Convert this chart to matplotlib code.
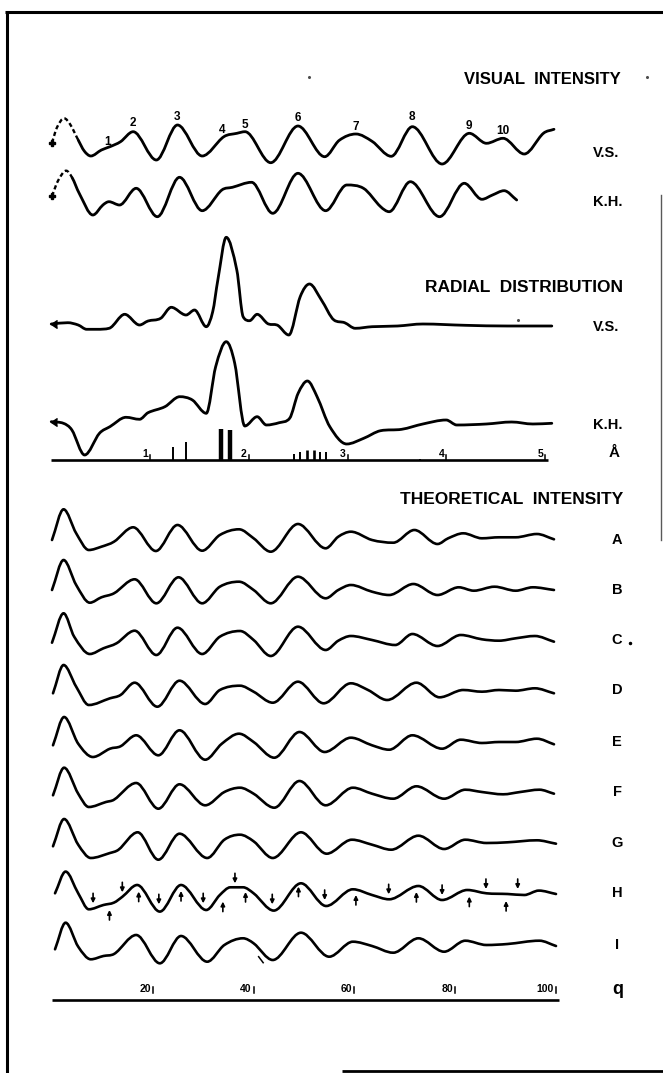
import numpy as np
import matplotlib
matplotlib.use("Agg")
import matplotlib.pyplot as plt
from matplotlib.path import Path
from matplotlib.patches import PathPatch

# ---------------- data ----------------
# Visual intensity curves: q and relative intensity
vis_vs_q = [0.0, 1.0, 2.4, 3.6, 5.2, 6.4, 7.7, 9.8, 11.5, 13.6, 16.1, 20.7, 24.9, 29.8, 34.1, 36.7,
            38.3, 43.4, 48.8, 54.1, 57.0, 60.3, 63.5, 67.3, 71.5, 77.4, 82.8, 86.2, 89.5, 93.7, 97.5, 99.6]
vis_vs_val = [10.6, 26, 35, 29, 13.3, 2.3, -2.7, 3.3, 6.6, 11.6, 21.6, -6.7, 28.3, -2.7, 16.6, 20,
              21.6, -9.4, 27.3, -3.4, 13, 19.3, 12, -3, 26.6, -10.7, 20, 10, 15, -0.7, 20, 24]
vis_kh_q = [0.0, 1.2, 2.8, 4.0, 5.4, 8.1, 10.1, 11.3, 13.4, 16.7, 20.9, 25.3, 29.8, 33.7, 35.8, 39.6,
            43.8, 48.8, 54.3, 58.5, 61.8, 65.2, 66.9, 71.1, 76.9, 81.8, 85.3, 87.4, 89.7, 92.2]
vis_kh_val = [5.7, 21, 31, 24, 8.4, -13.3, -3.3, 0, -3.3, 13.4, -15, 24.4, -9, 11.7, 14.4, 19.4,
              -11.6, 28.4, -9, 16.7, 13.4, -5, -10, 20, -15, 18.4, 2.4, 6.7, 11, 1.7]
vis_dash_end = 5.3          # observed part begins here (dashed before)
peak_numbers = ["1", "2", "3", "4", "5", "6", "7", "8", "9", "10"]
peak_q = [11.1, 16.1, 24.9, 33.7, 38.2, 48.7, 60.2, 71.5, 82.8, 89.5]
peak_label_h = [11.6, 30.6, 36.6, 23.3, 28.3, 35, 26.6, 36.6, 27.3, 22.6]

# Radial distribution curves: r (Angstrom) and relative value
rad_vs_r = [0.0, 0.167, 0.273, 0.359, 0.466, 0.586, 0.744, 0.894, 0.980, 1.108, 1.215, 1.365, 1.451,
            1.570, 1.635, 1.687, 1.772, 1.879, 1.943, 2.008, 2.085, 2.200, 2.286, 2.406, 2.521, 2.615,
            2.736, 2.863, 2.971, 3.078, 3.249, 3.506, 3.763, 4.191, 4.619, 5.069]
rad_vs_val = [2.7, 4, 1.7, -2.6, -2.6, -1.6, 12.4, 1.7, 5.7, 8.4, 19.4, 11.7, 16.7,
              0, 15, 46.7, 89.4, 56.7, 10, 6, 12.4, 2.7, 1.7, -8.3, 30, 42.7,
              26.7, 6.7, 4, -1.6, 0, 0.7, 2.7, 1.4, 0.7, 0.7]
rad_kh_r = [0.0, 0.123, 0.209, 0.338, 0.488, 0.594, 0.757, 0.894, 0.980, 1.151, 1.301, 1.429, 1.570,
            1.665, 1.772, 1.858, 1.96, 2.085, 2.179, 2.308, 2.414, 2.500, 2.594, 2.692, 2.821, 2.992,
            3.164, 3.335, 3.549, 3.763, 3.999, 4.107, 4.406, 4.662, 4.877, 5.069]
rad_kh_val = [3.3, 1.7, -5, -30, -8.3, -1.7, 7.7, 5.7, 12.3, 18.3, 28.3, 25, 11.7,
              58.3, 83.3, 61.7, -1, 8.3, 0, 2.3, 6.7, 31.7, 44, 28.3, -1.7, -19,
              -13.3, -5.7, -4.3, 1, 5, 0, 1, 3, 1, 1.7]
# interatomic distances (sticks) and their weights
stick_r = [1.23, 1.365, 1.717, 1.814, 2.455, 2.523, 2.587, 2.657, 2.725, 2.781, 3.732]
stick_w = [13.5, 18, 31, 30, 6, 8, 10, 10, 8, 8, 1.5]
stick_thick = [False, False, True, True, False, False, True, True, False, False, False]
r_ticks = [1, 2, 3, 4, 5]

# Theoretical intensity curves A..I
th_A_q = [0.0, 2.3, 4.8, 7.3, 9.8, 12.3, 16.1, 20.6, 24.9, 29.8, 33.3, 37.1, 40.0, 43.4, 48.8, 54.3,
          56.8, 59.3, 63.5, 67.7, 71.9, 76.5, 78.6, 81.6, 85.3, 88.7, 92.0, 96.2, 99.6]
th_A_val = [0, 30.7, 6.7, -10, -6.7, -1.7, 12.7, -11, 15, -10.7, 5, 10.7, 1.7, -11.7, 16, -8.3,
            3.3, 8.3, 0, -2.7, 10, -4, 1.7, 6.7, 1.7, 2.7, 2.7, 6, 0.7]
th_B_q = [0.0, 2.3, 4.8, 7.5, 9.8, 12.3, 16.4, 20.7, 25.1, 29.8, 33.3, 37.1, 40.0, 43.4, 48.8, 54.3,
          56.8, 59.3, 63.5, 66.9, 71.7, 76.5, 80.7, 83.7, 87.8, 92.0, 95.4, 99.6]
th_B_val = [0, 30, 5, -12.7, -7.3, -3.3, 10.7, -13.3, 12.7, -13.3, 3.3, 8.3, 0, -13.3, 13.3, -8.3,
            0, 5, -1.7, -5, 6, -5, 2.7, -0.7, 3.3, -0.7, 2.7, 0]
th_C_q = [0.0, 2.3, 4.4, 7.5, 10.2, 12.8, 16.4, 20.7, 24.9, 29.8, 33.3, 37.3, 40.0, 43.4, 48.8, 54.3,
          56.8, 59.3, 63.5, 68.1, 71.5, 76.5, 81.1, 85.3, 88.7, 92.0, 95.8, 99.6]
th_C_val = [-2.7, 26.7, 3.3, -14, -8.3, -3.3, 9.3, -15, 12.3, -14, 3.3, 9, 0, -16, 13.3, -10,
            -0.7, 4, 0, -5, 6, -6, 5, 0.7, -0.7, 1.7, 4, -1.7]
th_D_q = [0.2, 2.3, 4.8, 7.3, 11.5, 13.6, 16.4, 20.9, 25.3, 30.4, 33.3, 37.3, 40.0, 43.8, 48.8, 53.9,
          59.3, 62.7, 66.5, 72.3, 76.9, 81.6, 85.3, 88.7, 92.0, 95.8, 99.6]
th_D_val = [-3.3, 25, 3.3, -15, -8.3, -5, 7.3, -16.7, 9.3, -14, 0, 4.3, -1.7, -12.7, 8.3, -13.3,
            6.7, 0, -10, 7.3, -7.3, 0, -1.7, 0, -0.7, 1.7, -3.3]
th_E_q = [0.2, 2.4, 5.2, 8.1, 11.5, 13.6, 16.7, 21.1, 25.3, 30.4, 33.7, 37.1, 40.0, 44.1, 49.1, 54.1,
          59.3, 63.5, 66.9, 71.5, 77.4, 81.1, 85.3, 88.7, 92.0, 96.2, 99.6]
th_E_val = [-3.3, 25, -1.7, -15, -6.7, -4.3, 6.7, -13.3, 11.7, -17.7, -1.7, 8.3, 0, -15.7, 10, -10,
            4.3, -3.3, -7.7, 6.7, -6.7, 2.3, -1, 0, 0, 3.3, -2.3]
th_F_q = [0.2, 2.4, 5.2, 7.3, 10.7, 12.3, 16.7, 21.1, 25.3, 30.4, 34.2, 37.3, 40.0, 44.1, 49.1, 54.3,
          59.7, 63.5, 67.7, 72.3, 77.8, 82.0, 85.3, 89.5, 92.9, 96.7, 99.6]
th_F_val = [-3.3, 24.3, -1.7, -15, -10, -7.7, 9, -16.7, 7.7, -13.3, 0, 4.3, -1.7, -15.7, 11, -13.3,
            4.3, -1.7, -6.7, 5.7, -6.7, 2.3, 0, -2.3, 0, 2.3, -1.7]
th_G_q = [0.2, 2.4, 5.2, 7.7, 11.5, 13.2, 17.0, 21.1, 25.3, 30.8, 34.2, 37.3, 40.0, 43.8, 49.4, 54.5,
          59.5, 63.5, 67.3, 72.7, 77.8, 82.0, 86.2, 90.4, 96.2, 100.0]
th_G_val = [-3.3, 24, -1.7, -15, -10, -6.7, 10.7, -16.7, 9.3, -15, 3.3, 8.3, 1.7, -15, 10.7, -10.7,
            3.3, -1.7, -6.7, 7.3, -6, 3.3, 0, 0.7, 2.7, -0.7]
th_H_q = [0.6, 2.7, 5.2, 7.3, 10.2, 12.3, 14.0, 16.9, 21.4, 25.6, 30.6, 33.3, 35.4, 37.9, 40.0, 44.0,
          49.4, 54.4, 59.7, 63.5, 66.9, 72.7, 77.4, 82.4, 86.2, 90.4, 93.7, 96.6, 100.0]
th_H_val = [0, 21.7, 0, -16, -11.7, -9.3, -3.3, 8.3, -18.3, 8.3, -16.7, -1.7, 6, 6, 0, -17.3,
            10, -12.7, 4, -1.7, -6, 7.3, -6.7, 3.3, 0, -0.7, -1.7, 2.7, -0.7]
th_I_q = [0.6, 2.7, 5.2, 7.7, 10.2, 12.3, 16.7, 21.4, 25.6, 30.8, 34.2, 37.9, 40.0, 43.8, 49.4, 55.0,
          59.7, 63.5, 67.7, 72.7, 77.8, 82.0, 86.2, 90.4, 96.7, 100.0]
th_I_val = [-4.3, 22.3, -1.7, -14.3, -11, -9, 10, -18.3, 9, -16.7, 0, 6.7, 1.7, -15, 12.3, -11.7,
            3.3, -1, -7.7, 6.7, -6.7, 4.3, 0, 1, 4.3, -1]
theo_names = ["A", "B", "C", "D", "E", "F", "G", "H", "I"]

# arrows on curve H (q position, tip height)
h_down_q = [8.15, 13.95, 21.2, 30.0, 36.3, 43.7, 54.1, 66.8, 77.4, 86.1, 92.4]
h_down_tip = [-10, 1, -11, -10, 10, -11, -6.7, -1, -1.7, 4.3, 4.3]
h_up_q = [11.4, 17.2, 25.6, 33.9, 38.4, 48.9, 60.3, 72.3, 82.8, 90.1]
h_up_tip = [-16.7, 1.7, 2.3, -8.3, 1.3, 6.7, -1.7, 1.3, -3.3, -7.7]
q_ticks = [20, 40, 60, 80, 100]

# ---------------- layout (pixels) ----------------
W, H = 663, 1073
base_vis = {"V.S.": 153.3, "K.H.": 201.7}
base_rad = {"V.S.": 326.7, "K.H.": 425.0}
base_theo = [540, 590, 640, 690, 742, 792, 843, 893.3, 945]
r_axis_y = 460
q_axis_y = 1000
LW = 2.0
FONT = "Liberation Sans"

fig = plt.figure(figsize=(W / 100, H / 100), dpi=100)
fig.patch.set_facecolor("white")
# q axes: px = 52 + 5.04 q
axq = fig.add_axes([0, 0, 1, 1])
axq.set_xlim(-52 / 5.04, (W - 52) / 5.04)
axq.set_ylim(H, 0)
axq.axis("off")
# r axes: px = 51.25 + 98.75 r
axr = fig.add_axes([0, 0, 1, 1])
axr.set_xlim(-51.25 / 98.75, (W - 51.25) / 98.75)
axr.set_ylim(H, 0)
axr.axis("off")
axr.patch.set_alpha(0)
# pixel axes for frame and text
axp = fig.add_axes([0, 0, 1, 1])
axp.set_xlim(0, W)
axp.set_ylim(H, 0)
axp.axis("off")
axp.patch.set_alpha(0)


def slopes(x, y):
    """Tangents for a smooth line: zero at local extrema, central
    difference elsewhere, limited so that the line does not overshoot."""
    x = np.asarray(x, float)
    y = np.asarray(y, float)
    d = np.diff(y) / np.diff(x)
    m = np.zeros(len(x))
    m[0], m[-1] = d[0], d[-1]
    for k in range(1, len(x) - 1):
        if d[k - 1] * d[k] <= 0:
            m[k] = 0.0
        else:
            c = (y[k + 1] - y[k - 1]) / (x[k + 1] - x[k - 1])
            lim = 3 * min(abs(d[k - 1]), abs(d[k]))
            m[k] = np.sign(c) * min(abs(c), lim)
    return m


def smooth_path(x, y, i0=0, i1=None):
    x = np.asarray(x, float)
    y = np.asarray(y, float)
    m = slopes(x, y)
    if i1 is None:
        i1 = len(x) - 1
    verts = [(x[i0], y[i0])]
    codes = [Path.MOVETO]
    for k in range(i0, i1):
        hk = x[k + 1] - x[k]
        verts += [(x[k] + hk / 3, y[k] + m[k] * hk / 3),
                  (x[k + 1] - hk / 3, y[k + 1] - m[k + 1] * hk / 3),
                  (x[k + 1], y[k + 1])]
        codes += [Path.CURVE4] * 3
    return Path(verts, codes)


def draw_curve(ax, x, vals, base, lw=LW, dash_until=None):
    y = [base - v for v in vals]
    if dash_until is None:
        ax.add_patch(PathPatch(smooth_path(x, y), fill=False, lw=lw, ec="black",
                               capstyle="round", joinstyle="round"))
    else:
        k = max(i for i, xv in enumerate(x) if xv <= dash_until)
        ax.add_patch(PathPatch(smooth_path(x, y, 0, k), fill=False, lw=lw * 0.85, ec="black",
                               linestyle=(0, (1.8, 1.2))))
        ax.add_patch(PathPatch(smooth_path(x, y, k), fill=False, lw=lw, ec="black",
                               capstyle="round", joinstyle="round"))
    return y


# ---- visual intensity ----
y = draw_curve(axq, vis_vs_q, vis_vs_val, base_vis["V.S."], dash_until=vis_dash_end)
axq.plot(vis_vs_q[0], y[0], marker="P", ms=5, color="black")
y = draw_curve(axq, vis_kh_q, vis_kh_val, base_vis["K.H."], dash_until=vis_dash_end)
axq.plot(vis_kh_q[0], y[0], marker="P", ms=5, color="black")
for lab, q, hgt in zip(peak_numbers, peak_q, peak_label_h):
    axq.text(q, base_vis["V.S."] - hgt, lab, ha="center", va="center", fontsize=8.5,
             fontweight="bold", family=FONT)

# ---- radial distribution ----
y = draw_curve(axr, rad_vs_r, rad_vs_val, base_rad["V.S."])
axr.plot(rad_vs_r[0], y[0], marker=4, ms=6, color="black")
y = draw_curve(axr, rad_kh_r, rad_kh_val, base_rad["K.H."])
axr.plot(rad_kh_r[0], y[0], marker=4, ms=6, color="black")
axr.plot([0, 5.03], [r_axis_y, r_axis_y], color="black", lw=1.9, solid_capstyle="butt")
for r, w, thick in zip(stick_r, stick_w, stick_thick):
    axr.plot([r, r], [r_axis_y, r_axis_y - w], color="black",
             lw=3.2 if w > 25 else (1.9 if thick else 1.4), solid_capstyle="butt")
for t in r_ticks:
    axr.plot([t, t], [r_axis_y, r_axis_y - 5], color="black", lw=1.1)
    axr.text(t - 0.02, r_axis_y - 1, str(t), ha="right", va="bottom", fontsize=7.5,
             fontweight="bold", family=FONT)

# ---- theoretical intensity ----
theo_q = [th_A_q, th_B_q, th_C_q, th_D_q, th_E_q, th_F_q, th_G_q, th_H_q, th_I_q]
theo_v = [th_A_val, th_B_val, th_C_val, th_D_val, th_E_val, th_F_val, th_G_val, th_H_val, th_I_val]
for qs, vs, b in zip(theo_q, theo_v, base_theo):
    draw_curve(axq, qs, vs, b, lw=1.9)

hb = base_theo[7]
for q, t in zip(h_down_q, h_down_tip):
    axq.annotate("", xy=(q, hb - t), xytext=(q, hb - t - 10),
                 arrowprops=dict(arrowstyle="-|>", lw=1.2, color="black",
                                 mutation_scale=6, shrinkA=0, shrinkB=0))
for q, t in zip(h_up_q, h_up_tip):
    axq.annotate("", xy=(q, hb - t), xytext=(q, hb - t + 10),
                 arrowprops=dict(arrowstyle="-|>", lw=1.2, color="black",
                                 mutation_scale=6, shrinkA=0, shrinkB=0))
# small stroke under curve I
axq.plot([41.0, 41.9], [base_theo[8] + 11.7, base_theo[8] + 17.7], color="black", lw=1.1)

# q axis
axq.plot([0, 100.5], [q_axis_y, q_axis_y], color="black", lw=1.9, solid_capstyle="butt")
for t in q_ticks:
    axq.plot([t, t], [q_axis_y - 7, q_axis_y - 13], color="black", lw=1.1)
    axq.text(t - 0.4, q_axis_y - 6.5, str(t), ha="right", va="bottom", fontsize=7.5,
             fontweight="bold", family=FONT)

# ---- text ----
tkw = dict(fontweight="bold", family=FONT, color="black")
axp.text(621, 80, "VISUAL  INTENSITY", ha="right", va="center", fontsize=12, **tkw)
axp.text(623, 288, "RADIAL  DISTRIBUTION", ha="right", va="center", fontsize=12.5, **tkw)
axp.text(623, 499, "THEORETICAL  INTENSITY", ha="right", va="center", fontsize=12.5, **tkw)
for name, yb in base_vis.items():
    axp.text(593, yb, name, ha="left", va="center", fontsize=10.5, **tkw)
for name, yb in base_rad.items():
    axp.text(593, yb, name, ha="left", va="center", fontsize=10.5, **tkw)
axp.text(614, 453, "Å", ha="center", va="center", fontsize=11, **tkw)
for name, yb in zip(theo_names, base_theo):
    axp.text(617, yb, name, ha="center", va="center", fontsize=10.5, **tkw)
axp.text(618, 990, "q", ha="center", va="center", fontsize=13, **tkw)
axp.plot([630], [643], marker="o", ms=1.5, color="black")

# ---- frame ----
axp.plot([5, W], [11.5, 11.5], color="black", lw=2.2, solid_capstyle="butt")
axp.plot([6.5, 6.5], [10.5, H], color="black", lw=2.2, solid_capstyle="butt")
axp.plot([342, W], [1071, 1071], color="black", lw=2.0, solid_capstyle="butt")
axp.plot([661, 661], [195, 540], color="0.35", lw=1.0)
for sx, sy in [(309, 77), (647, 77), (518, 320)]:
    axp.plot([sx], [sy], marker="o", ms=1.2, color="0.3")

fig.savefig("out.png", dpi=100, facecolor="white")
